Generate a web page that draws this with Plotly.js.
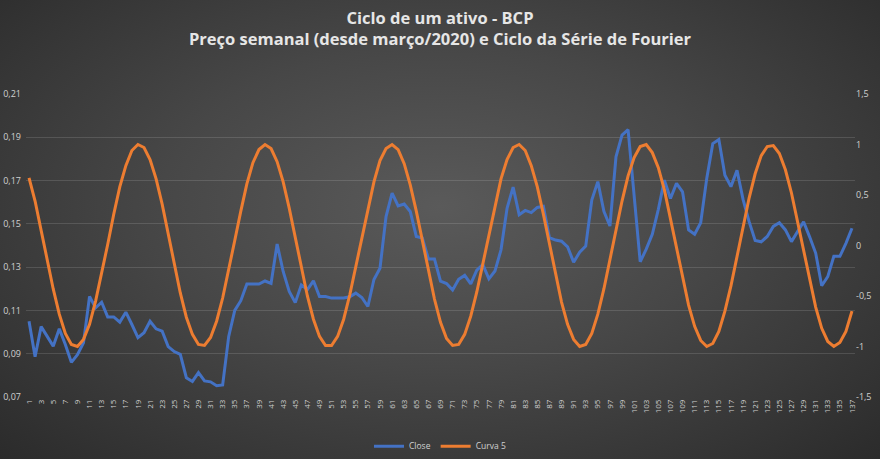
<!DOCTYPE html>
<html>
<head>
<meta charset="utf-8">
<script src="https://cdn.plot.ly/plotly-3.0.1.min.js"></script>
<style>
  html, body { margin: 0; padding: 0; }
  body {
    width: 880px; height: 459px; overflow: hidden;
    background: radial-gradient(ellipse at 50% 45%, #5a5a5a 0%, #474747 45%, #2b2b2b 100%);
  }
  #chart { width: 880px; height: 459px; }
</style>
</head>
<body>
<div id="chart"></div>
<script>
// semanas 1..137
var semanas = [];
for (var i = 1; i <= 137; i++) semanas.push(i);

// preco de fecho semanal (eixo esquerdo)
var close = [
  0.105, 0.0886, 0.1025, 0.0981, 0.0935, 0.1015, 0.0943, 0.0860, 0.0895, 0.095,
  0.1165, 0.1112, 0.1138, 0.107, 0.107, 0.1046, 0.1092, 0.1035, 0.0974, 0.0997,
  0.105, 0.1015, 0.1004, 0.0933, 0.091, 0.0897, 0.0789, 0.0772, 0.0813, 0.0774,
  0.077, 0.0752, 0.0756, 0.098, 0.110, 0.1145, 0.1222, 0.1222, 0.1222, 0.1236,
  0.1225, 0.1407, 0.128, 0.1188, 0.1136, 0.1218, 0.1196, 0.1237, 0.1164, 0.1164,
  0.1157, 0.1157, 0.1157, 0.1163, 0.118, 0.116, 0.1118, 0.1243, 0.1295, 0.1534,
  0.1642, 0.1583, 0.1592, 0.1557, 0.1442, 0.1435, 0.1338, 0.1338, 0.1235, 0.1224,
  0.1194, 0.1244, 0.1262, 0.1223, 0.1286, 0.1312, 0.1246, 0.1282, 0.138, 0.1572,
  0.167, 0.1542, 0.1562, 0.1552, 0.1576, 0.1581, 0.1436, 0.1425, 0.142, 0.1394,
  0.1323, 0.1369, 0.1397, 0.161, 0.1695, 0.1558, 0.149, 0.181, 0.191, 0.1935,
  0.1637, 0.1325, 0.1383, 0.1452, 0.1567, 0.1702, 0.1617, 0.1687, 0.1648, 0.1472,
  0.1452, 0.1505, 0.171, 0.1871, 0.189, 0.1725, 0.1672, 0.1748, 0.1613, 0.151,
  0.1423, 0.1417, 0.1442, 0.1488, 0.1505, 0.1472, 0.1418, 0.1464, 0.151, 0.144,
  0.1365, 0.1214, 0.1256, 0.135, 0.135, 0.141, 0.148
];

// curva de Fourier (eixo direito)
var curva5 = [
  0.67, 0.44, 0.15, -0.15, -0.43, -0.68, -0.87, -0.98, -1.00, -0.93,
  -0.78, -0.55, -0.28, 0.01, 0.31, 0.58, 0.79, 0.94, 1.00, 0.97,
  0.85, 0.66, 0.41, 0.12, -0.18, -0.47, -0.71, -0.88, -0.98, -0.99,
  -0.91, -0.75, -0.52, -0.25, 0.05, 0.34, 0.61, 0.82, 0.95, 1.00,
  0.96, 0.83, 0.63, 0.37, 0.08, -0.22, -0.50, -0.73, -0.90, -0.99,
  -0.99, -0.90, -0.73, -0.49, -0.21, 0.09, 0.38, 0.63, 0.84, 0.96,
  1.00, 0.95, 0.81, 0.60, 0.34, 0.05, -0.25, -0.53, -0.76, -0.92,
  -0.99, -0.98, -0.88, -0.70, -0.46, -0.18, 0.12, 0.41, 0.66, 0.85,
  0.97, 1.00, 0.94, 0.79, 0.58, 0.31, 0.01, -0.29, -0.56, -0.78,
  -0.93, -1.00, -0.98, -0.87, -0.68, -0.43, -0.14, 0.16, 0.44, 0.69,
  0.87, 0.98, 1.00, 0.92, 0.77, 0.55, 0.27, -0.02, -0.32, -0.59,
  -0.80, -0.94, -1.00, -0.97, -0.85, -0.65, -0.40, -0.11, 0.19, 0.47,
  0.71, 0.89, 0.98, 0.99, 0.91, 0.75, 0.52, 0.24, -0.06, -0.35,
  -0.61, -0.82, -0.95, -1.00, -0.96, -0.85, -0.65
];

var leftTicks = [0.07, 0.09, 0.11, 0.13, 0.15, 0.17, 0.19, 0.21];
var leftLabels = ['0,07', '0,09', '0,11', '0,13', '0,15', '0,17', '0,19', '0,21'];
var rightTicks = [-1.5, -1, -0.5, 0, 0.5, 1, 1.5];
var rightLabels = ['-1,5', '-1', '-0,5', '0', '0,5', '1', '1,5'];

var xTicks = [], xLabels = [];
for (var k = 1; k <= 137; k += 2) { xTicks.push(k); xLabels.push(String(k)); }

var tickFont = { family: 'Open Sans, sans-serif', size: 9, color: '#d0d0d0' };

var traces = [
  {
    x: semanas, y: close, name: 'Close', type: 'scatter', mode: 'lines',
    line: { color: '#4472C4', width: 3 }, yaxis: 'y'
  },
  {
    x: semanas, y: curva5, name: 'Curva 5', type: 'scatter', mode: 'lines',
    line: { color: '#ED7D31', width: 3 }, yaxis: 'y2'
  }
];

var layout = {
  width: 880, height: 459,
  paper_bgcolor: 'rgba(0,0,0,0)',
  plot_bgcolor: 'rgba(0,0,0,0)',
  margin: { l: 26, r: 25, t: 94, b: 62 },
  title: {
    text: 'Ciclo de um ativo - BCP<br>Preço semanal (desde março/2020) e Ciclo da Série de Fourier',
    font: { family: 'Open Sans, sans-serif', size: 16.5, color: '#e6e6e6', weight: 'bold' },
    x: 0.5, xanchor: 'center', y: 0.948, yanchor: 'middle', yref: 'container'
  },
  showlegend: true,
  legend: {
    orientation: 'h', x: 0.5, xanchor: 'center', xref: 'container',
    y: 0.028, yanchor: 'middle', yref: 'container',
    font: { family: 'Open Sans, sans-serif', size: 8.5, color: '#d0d0d0' },
    itemwidth: 30, tracegroupgap: 0
  },
  xaxis: {
    range: [0.5, 137.5], automargin: false,
    tickmode: 'array', tickvals: xTicks, ticktext: xLabels,
    tickangle: -90, tickfont: { family: 'Open Sans, sans-serif', size: 8, color: '#d0d0d0' },
    showgrid: false, zeroline: false, showline: false, ticks: ''
  },
  yaxis: {
    range: [0.07, 0.21], automargin: false,
    tickmode: 'array', tickvals: leftTicks, ticktext: leftLabels,
    tickfont: tickFont,
    gridcolor: 'rgba(255,255,255,0.13)', gridwidth: 1,
    zeroline: false, showline: false, ticks: '', ticklabelstandoff: 4
  },
  yaxis2: {
    range: [-1.5, 1.5], overlaying: 'y', side: 'right', automargin: false,
    tickmode: 'array', tickvals: rightTicks, ticktext: rightLabels,
    tickfont: tickFont,
    showgrid: false, zeroline: false, showline: false, ticks: ''
  }
};

Plotly.newPlot('chart', traces, layout, { displayModeBar: false, staticPlot: true });
</script>
</body>
</html>
